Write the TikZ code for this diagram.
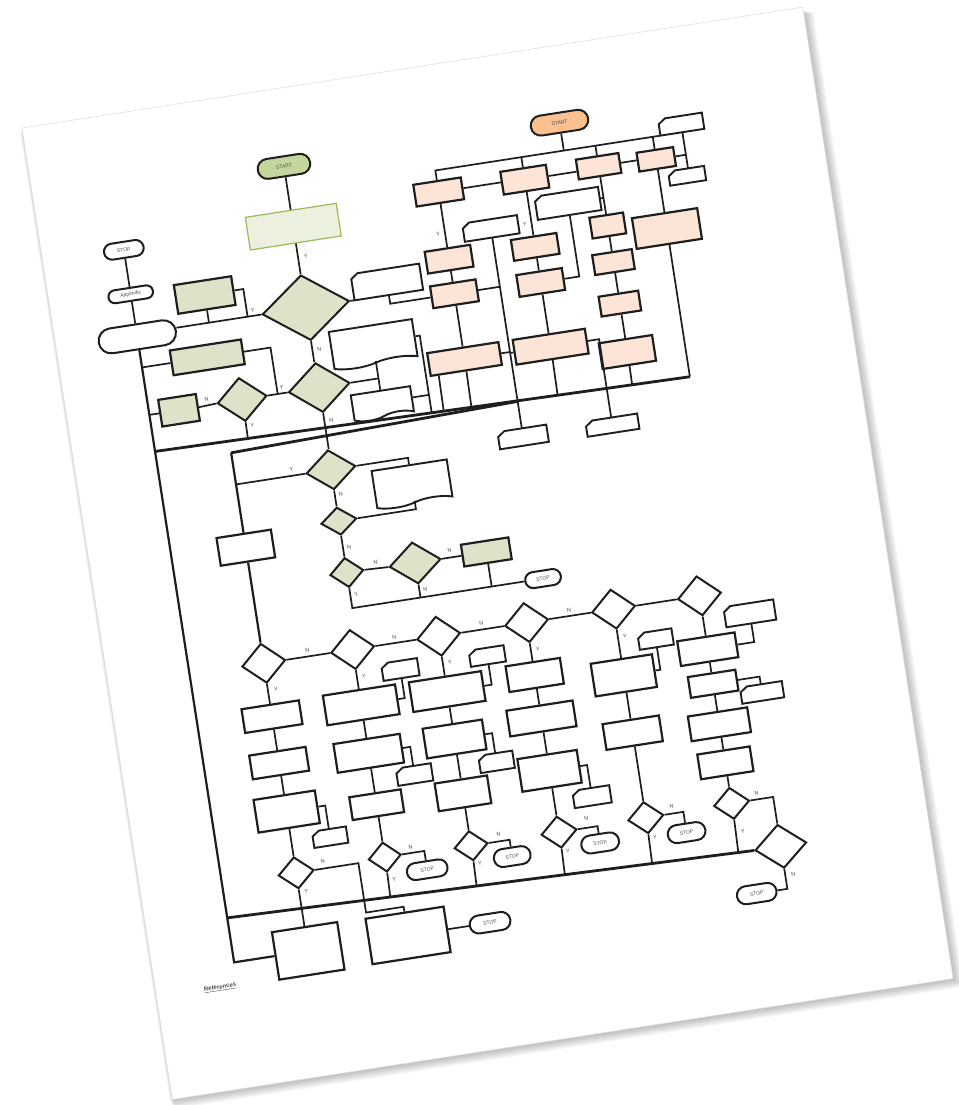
\documentclass[tikz,border=0pt]{standalone}
\usepackage{fontspec}
\setmainfont{Liberation Sans}
\usetikzlibrary{shapes.geometric,shapes.misc,shapes.symbols,calc}
\definecolor{termgreen}{HTML}{C3D69B}
\definecolor{gfill}{HTML}{DCE3C8}
\definecolor{glight}{HTML}{EBF1DE}
\definecolor{gborder}{HTML}{9BBB59}
\definecolor{termorange}{HTML}{FAC090}
\definecolor{ofill}{HTML}{FCE4D6}
\definecolor{ink}{HTML}{1E1E1E}
\tikzset{
  sz/.style 2 args={minimum width=#1,minimum height=#2},
  ln/.style={draw=ink,line width=1.7pt},
  bus/.style={draw=ink,line width=2.8pt},
  term/.style={rounded rectangle,draw=ink,line width=2pt,fill=white,inner sep=0pt,font=\fontsize{5}{6}\selectfont,text=black!70},
  bx/.style={rectangle,draw=ink,line width=2.2pt,fill=white,inner sep=0pt},
  gbx/.style={bx,fill=gfill},
  obx/.style={bx,fill=ofill},
  cardbase/.style={rectangle,inner sep=0pt},
  cardline/.style={draw=ink,line width=1.9pt,fill=white,line join=miter},
  dia/.style={diamond,draw=ink,line width=2pt,fill=white,inner sep=0pt},
  gdia/.style={dia,fill=gfill},
  doc/.style={tape,tape bend top=none,draw=ink,line width=1.9pt,fill=white,inner sep=0pt},
  lab/.style={inner sep=0pt,font=\fontsize{5.5}{6}\selectfont,text=black!70},
}
\newcommand\cardnode[5]{%
  \node[cardbase,minimum width=#4,minimum height=#5] (#1) at (#2,#3) {};
  \filldraw[cardline] ([yshift=-5pt]#1.north west) -- ([xshift=7pt]#1.north west) -- (#1.north east) -- (#1.south east) -- (#1.south west) -- cycle;}
\begin{document}
\begin{tikzpicture}[x=1pt,y=-1pt]
\useasboundingbox (0,0) rectangle (958,1105);
\fill[white] (0,0) rectangle (958,1105);
\begin{scope}[transform canvas={shift={(22,128)},rotate=8.8}]
 % page shadow and page
 \foreach \i in {1,...,10}{\fill[black,opacity=0.022] (-3+0.4*\i,3+0.4*\i) rectangle (791+0.9*\i,984+0.9*\i);}
 \fill[white] (0,0) rectangle (790,983);
 \draw[black!12,line width=0.6pt] (0,0) rectangle (790,983);

 % ---------- top-left (green) ----------
 \node[term,fill=termgreen,sz={53}{20}] (gstart) at (253,78) {START};
 \node[rectangle,draw=gborder,line width=1.2pt,fill=glight,sz={92}{33}] (grect) at (253,139) {};
 \node[gdia,sz={88}{66}] (bigdia) at (253,221) {};
 \node[gdia,sz={62}{50}] (dia2) at (254,302) {};
 \node[gbx,sz={58}{29}] (gA) at (155,193) {};
 \node[gbx,sz={72}{25}] (gB) at (148,255) {};
 \node[gdia,sz={50}{44}] (sdia) at (176,302) {};
 \node[gbx,sz={38}{27}] (gC) at (112,303) {};
 \node[term,sz={40}{16}] (stop1) at (82,136) {STOP};
 \node[term,sz={45}{13}] (appx) at (82,181) {Appendix};
 \node[term,sz={78}{25}] (bigterm) at (82,224) {};
 \cardnode{cardR}{337}{208}{69}{26}
 \node[doc,sz={84}{40}] (doc1) at (314,266) {};
 \node[doc,sz={60}{28}] (doc2) at (314,326) {};

 % ---------- top-right (orange) ----------
 \node[term,fill=termorange,sz={58}{20}] (ostart) at (532,77) {START};
 \cardnode{card1}{652}{97}{44}{16}
 \cardnode{card2}{650}{149}{36}{14}
 \node[obx,sz={48}{22}] (box1) at (402,127) {};
 \node[obx,sz={46}{23}] (box2) at (489,128) {};
 \node[obx,sz={43}{20}] (box3) at (564,126) {};
 \node[obx,sz={37}{19}] (box4) at (622,128) {};
 \cardnode{card3}{528}{158}{64}{23}
 \cardnode{cardL}{448}{171}{55}{18}
 \node[obx,sz={46}{22}] (box5) at (402,195) {};
 \node[obx,sz={46}{22}] (box6) at (402,230) {};
 \node[obx,sz={46}{21}] (box7) at (489,196) {};
 \node[obx,sz={46}{22}] (box8) at (489,232) {};
 \node[obx,sz={34}{21}] (box9) at (564,186) {};
 \node[obx,sz={40}{20}] (box10) at (564,223) {};
 \node[obx,sz={40}{20}] (box11) at (564,265) {};
 \node[obx,sz={54}{26}] (box12) at (564,314) {};
 \node[obx,sz={66}{31}] (box13) at (622,198) {};
 \node[obx,sz={72}{23}] (box14) at (402,296) {};
 \node[obx,sz={73}{25}] (box15) at (489,297) {};
 \cardnode{cardB1}{448}{382}{49}{17}
 \cardnode{cardB2}{538}{384}{52}{15}

 % ---------- middle ----------
 \node[gdia,sz={50}{40}] (diaA) at (253,385) {};
 \node[doc,sz={76}{40}] (doc3) at (331,410) {};
 \node[gdia,sz={36}{28}] (diaB) at (253,437) {};
 \node[gdia,sz={34}{30}] (diaC) at (253,489) {};
 \node[gdia,sz={52}{42}] (diaD) at (322,490) {};
 \node[gbx,sz={48}{22}] (grect2) at (394,490) {};
 \node[term,sz={36}{16}] (stopM) at (446,525) {STOP};
 \node[bx,sz={55}{28}] (wrect) at (157,449) {};

 % ---------- lower grid ----------
 \foreach \n/\u in {D1/157,D2/247,D3/334,D4/423,D5/511,D6/598}{\node[dia,sz={44}{40}] (\n) at (\u,566) {};}
 \node[bx,sz={58}{24}] (c1a) at (157,620) {};
 \node[bx,sz={57}{24}] (c1b) at (157,667) {};
 \node[bx,sz={62}{33}] (c1c) at (157,716) {};
 \cardnode{c1e}{196}{748}{34}{16}
 \node[dia,sz={36}{32}] (c1d) at (157,778) {};

 \node[bx,sz={73}{30}] (c2a) at (247,622) {};
 \cardnode{c2e}{291}{593}{36}{17}
 \node[bx,sz={67}{29}] (c2b) at (247,671) {};
 \cardnode{c2f}{289}{699}{35}{17}
 \node[bx,sz={52}{23}] (c2c) at (247,723) {};
 \node[dia,sz={33}{30}] (c2d) at (247,776) {};
 \node[term,sz={41}{17}] (stop2) at (287,795) {STOP};

 \node[bx,sz={73}{30}] (c3a) at (334,622) {};
 \cardnode{c3e}{379}{593}{35}{16}
 \node[bx,sz={60}{30}] (c3b) at (334,670) {};
 \cardnode{c3f}{372}{699}{34}{17}
 \node[bx,sz={53}{28}] (c3c) at (334,725) {};
 \node[dia,sz={34}{30}] (c3d) at (334,778) {};
 \node[term,sz={37}{18}] (stop3) at (373,795) {STOP};

 \node[bx,sz={55}{26}] (c4a) at (423,619) {};
 \node[bx,sz={67}{26}] (c4b) at (423,663) {};
 \node[bx,sz={60}{33}] (c4c) at (423,716) {};
 \cardnode{c4e}{461}{748}{37}{17}
 \node[dia,sz={36}{32}] (c4d) at (423,778) {};
 \node[term,sz={38}{18}] (stop4) at (462,795) {STOP};

 \cardnode{c5e}{548}{602}{34}{16}
 \node[bx,sz={62}{33}] (c5a) at (511,633) {};
 \node[bx,sz={57}{26}] (c5b) at (511,691) {};
 \node[dia,sz={36}{32}] (c5d) at (511,777) {};
 \node[term,sz={38}{18}] (stop5) at (549,798) {STOP};

 \cardnode{c6f}{645}{591}{50}{20}
 \node[bx,sz={58}{25}] (c6a) at (598,620) {};
 \node[bx,sz={48}{21}] (c6b) at (598,655) {};
 \cardnode{c6g}{645}{671}{42}{16}
 \node[bx,sz={60}{25}] (c6c) at (598,696) {};
 \node[bx,sz={53}{25}] (c6d) at (598,735) {};
 \node[dia,sz={36}{32}] (c6e) at (598,776) {};
 \node[dia,sz={52}{44}] (c6h) at (640,826) {};
 \node[term,sz={40}{18}] (stop6) at (609,869) {STOP};

 \node[bx,sz={66}{48}] (bbl) at (157,857) {};
 \node[bx,sz={79}{46}] (bbr) at (258,857) {};
 \node[term,sz={41}{18}] (stopB) at (341,857) {STOP};
 \node[inner sep=0pt,anchor=west,font=\fontsize{6}{7}\selectfont\bfseries,text=black!70] (refs) at (48,880) {\underline{References}};

 % ---------- bus coordinates ----------
 \coordinate (t1a) at (82,340);
 \coordinate (t1b) at (622,348);
 \coordinate (t2a) at (157,353);
 \coordinate (t2b) at (448,346);
 \coordinate (b1) at (82,812);
 \coordinate (jR) at ($(t1a)!(362,300)!(t1b)$);
 \coordinate (k1) at (220,828);

 % ---------- connectors: top-left ----------
 \draw[ln] (gstart) -- (grect);
 \draw[ln] (grect) -- (bigdia);
 \draw[ln] (bigdia.west) -- (bigdia.west -| bigterm.east);
 \draw[ln] (gA.south) -- (gA.south |- bigdia.west);
 \draw[ln] (gA.east) -- ([xshift=9pt]gA.east) -- ([xshift=9pt]gA.east |- bigdia.west);
 \draw[ln] (bigterm.north) -- (appx.south);
 \draw[ln] (appx.north) -- (stop1.south);
 \draw[line width=2.2pt,draw=ink] (bigterm.south) |- (bbl.west);
 \draw[ln] (gB.west) -- (gB.west -| bigterm.south);
 \draw[ln] (gC.west) -- (gC.west -| bigterm.south);
 \draw[ln] (bigdia.south) -- (bigdia.south |- dia2.north);
 \draw[ln] (dia2.west) -- (sdia.east);
 \draw[ln] (gB.east) -| ($(sdia.east)!0.5!(dia2.west)$);
 \draw[ln] (sdia.west) -- (gC.east);
 \draw[ln] (sdia.south) -- ($(t1a)!(sdia.south)!(t1b)$);
 \draw[ln] (dia2.south) -- (dia2.south |- diaA.north);
 \draw[ln] (bigdia.east) -- (cardR.south west);
 \draw[ln] (cardR.south) |- (box6.west);
 \draw[ln] (doc1.south) -- (doc2.north);
 \draw[ln] (dia2.east) -- (dia2.east -| doc1.south);
 \draw[ln] (doc1.east) -| (jR);
 \draw[ln] (doc2.east) -- (doc2.east -| jR);

 % ---------- connectors: orange ----------
 \draw[ln] (ostart.south) -- (ostart.south |- card1.south west);
 \draw[ln] (box1.north) |- (card1.south west);
 \draw[ln] (box2.north) -- (box2.north |- card1.south west);
 \draw[ln] (box3.north) -- (box3.north |- card1.south west);
 \draw[ln] (box4.north) -- (box4.north |- card1.south west);
 \draw[ln] (box1.east) -- (box1.east -| box2.west);
 \draw[ln] (box2.east) -- (box2.east -| box3.west);
 \draw[ln] (box3.east) -- (box3.east -| box4.west);
 \draw[ln] (box4.east) -- (box4.east -| card1.south);
 \draw[ln] (card1.south) -- (card1.south |- card2.north);
 \draw[ln] (box4.south) -- (box4.south |- box13.north);
 \draw[ln] (box13.south) -- (t1b);
 \draw[ln] (box3.south) -- (box9.north);
 \draw[ln] (card3.east) -- (card3.east -| box3.south);
 \draw[ln] (box9) -- (box10);
 \draw[ln] (box10) -- (box11);
 \draw[ln] (box11) -- (box12);
 \draw[ln] (box12.south) -- ($(t1a)!(box12.south)!(t1b)$);
 \draw[ln] (box2.south) -- (box7.north);
 \draw[ln] (box7) -- (box8);
 \draw[ln] (box8) -- (box15);
 \draw[ln] (card3.south) |- (box8.east);
 \draw[ln] (box15.south) -- ($(t1a)!(box15.south)!(t1b)$);
 \draw[ln] (box15.east) -| (cardB2.north);
 \draw[ln] (box1.south) -- (box5.north);
 \draw[ln] (box5) -- (box6);
 \draw[ln] (box6) -- (box14);
 \draw[ln] (box14.south) -- ($(t1a)!(box14.south)!(t1b)$);
 \draw[ln] ([xshift=-28pt]box14.south) -- ($(t1a)!([xshift=-28pt]box14.south)!(t1b)$);
 \draw[ln] (cardL.south) -- (cardB1.north);
 \draw[ln] (box6.east) -- (box6.east -| cardL.south);
 \draw[ln] (box14.east) -- (box14.east -| cardL.south);
 \draw[ln] (box15.west) -- (box15.west -| cardL.south);

 % buses
 \draw[bus] (t1a) -- (t1b);
 \draw[bus] (t2a) -- (t2b);

 % ---------- connectors: middle ----------
 \draw[line width=2.2pt,draw=ink] (t2a) -- (wrect.north);
 \draw[line width=2.2pt,draw=ink] (wrect.south) -- (D1.north);
 \draw[ln] (diaA.west) -- (diaA.west -| t2a);
 \draw[ln] (diaA.south) -- (diaB.north);
 \draw[ln] (diaB.south) -- (diaC.north);
 \draw[ln] (diaA.east) -| (doc3.north);
 \draw[ln] (doc3.south) |- (diaB.east);
 \draw[ln] (diaC.east) -- (diaD.west);
 \draw[ln] (diaD.east) -- (grect2.west);
 \draw[ln] (diaC.south) |- (stopM.west);
 \draw[ln] (diaD.south) -- (diaD.south |- stopM.west);
 \draw[ln] (grect2.south) -- (grect2.south |- stopM.west);

 % ---------- connectors: lower grid ----------
 \draw[ln] (D1.east) -- (D2.west);
 \draw[ln] (D2.east) -- (D3.west);
 \draw[ln] (D3.east) -- (D4.west);
 \draw[ln] (D4.east) -- (D5.west);
 \draw[ln] (D5.east) -- (D6.west);
 % column 1
 \draw[ln] (D1) -- (c1a); \draw[ln] (c1a) -- (c1b); \draw[ln] (c1b) -- (c1c); \draw[ln] (c1c) -- (c1d);
 \draw[ln] (c1c.east) -| (c1e.north);
 \draw[ln] (c1d.east) -| (k1) -| (bbr.north);
 \draw[ln] (c1d.south) -- (bbl.north);
 % column 2
 \draw[ln] (D2) -- (c2a); \draw[ln] (c2a) -- (c2b); \draw[ln] (c2b) -- (c2c); \draw[ln] (c2c) -- (c2d);
 \draw[ln] (c2e.south) |- (c2a.east);
 \draw[ln] (c2b.east) -| (c2f.north);
 \draw[ln] (c2d.east) -| (stop2.north);
 \draw[ln] (c2d.south) -- ($(b1)!(c2d.south)!(c6h.west)$);
 % column 3
 \draw[ln] (D3) -- (c3a); \draw[ln] (c3a) -- (c3b); \draw[ln] (c3b) -- (c3c); \draw[ln] (c3c) -- (c3d);
 \draw[ln] (c3e.south) |- (c3a.east);
 \draw[ln] (c3b.east) -| (c3f.north);
 \draw[ln] (c3d.east) -| (stop3.north);
 \draw[ln] (c3d.south) -- ($(b1)!(c3d.south)!(c6h.west)$);
 % column 4
 \draw[ln] (D4) -- (c4a); \draw[ln] (c4a) -- (c4b); \draw[ln] (c4b) -- (c4c); \draw[ln] (c4c) -- (c4d);
 \draw[ln] (c4c.east) -| (c4e.north);
 \draw[ln] (c4d.east) -| (stop4.north);
 \draw[ln] (c4d.south) -- ($(b1)!(c4d.south)!(c6h.west)$);
 % column 5
 \draw[ln] (D5) -- (c5a); \draw[ln] (c5a) -- (c5b); \draw[ln] (c5b) -- (c5d);
 \draw[ln] (c5e.south) |- (c5a.east);
 \draw[ln] (c5d.east) -| (stop5.north);
 \draw[ln] (c5d.south) -- ($(b1)!(c5d.south)!(c6h.west)$);
 % column 6
 \draw[ln] (D6) -- (c6a); \draw[ln] (c6a) -- (c6b); \draw[ln] (c6b) -- (c6c); \draw[ln] (c6c) -- (c6d); \draw[ln] (c6d) -- (c6e);
 \draw[ln] (c6f.south) |- (c6a.east);
 \draw[ln] (c6b.east) -| (c6g.north);
 \draw[ln] (c6e.east) -| (c6h.north);
 \draw[ln] (c6e.south) -- ($(b1)!(c6e.south)!(c6h.west)$);
 \draw[ln] (c6h.south) |- (stop6.east);
 \draw[bus] (b1) -- (c6h.west);
 \draw[ln] (bbr.east) -- (stopB.west);

 % ---------- labels ----------
 \node[lab] (l1) at (261,170) {Y};
 \node[lab] (l2) at (200,215) {Y};
 \node[lab] (l3) at (260,264) {N};
 \node[lab] (l4) at (217,296) {Y};
 \node[lab] (l5) at (141,296) {N};
 \node[lab] (l6) at (182,329) {Y};
 \node[lab] (l7) at (261,336) {N};
 \node[lab] (l8) at (395,169) {Y};
 \node[lab] (l9) at (482,172) {Y};
 \node[lab] (l10) at (214,379) {Y};
 \node[lab] (l11) at (259,411) {N};
 \node[lab] (l12) at (259,464) {N};
 \node[lab] (l13) at (283,483) {N};
 \node[lab] (l14) at (358,483) {N};
 \node[lab] (l15) at (259,512) {Y};
 \node[lab] (l16) at (328,518) {N};
 \node[lab] (l17) at (202,560) {N};
 \node[lab] (l18) at (290,560) {N};
 \node[lab] (l19) at (378,560) {N};
 \node[lab] (l20) at (467,560) {N};
 \node[lab] (l21) at (165,594) {Y};
 \node[lab] (l22) at (254,594) {Y};
 \node[lab] (l23) at (341,594) {Y};
 \node[lab] (l24) at (430,594) {Y};
 \node[lab] (l25) at (518,595) {Y};
 \node[lab] (l26) at (185,771) {N};
 \node[lab] (l27) at (274,770) {N};
 \node[lab] (l28) at (363,771) {N};
 \node[lab] (l29) at (452,769) {N};
 \node[lab] (l30) at (538,770) {N};
 \node[lab] (l31) at (624,770) {N};
 \node[lab] (l32) at (164,798) {Y};
 \node[lab] (l33) at (253,799) {Y};
 \node[lab] (l34) at (340,797) {Y};
 \node[lab] (l35) at (429,798) {Y};
 \node[lab] (l36) at (517,798) {Y};
 \node[lab] (l37) at (605,805) {Y};
 \node[lab] (l38) at (648,856) {N};
\end{scope}
\end{tikzpicture}
\end{document}
